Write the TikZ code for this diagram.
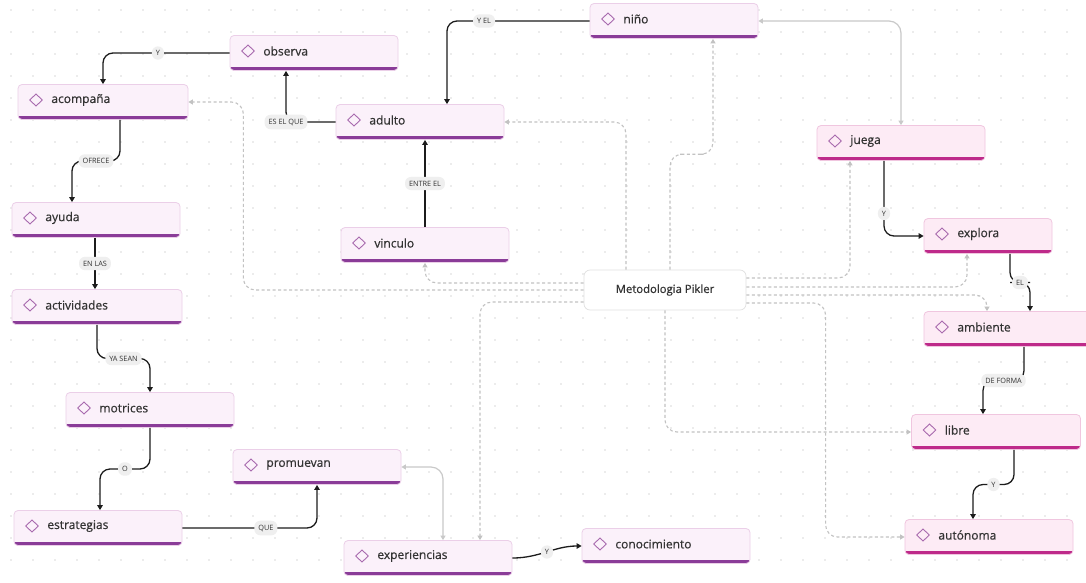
\documentclass[tikz,border=0pt]{standalone}
\usepackage{fontspec}
\setmainfont{Open Sans}
\newfontfamily\nfont{Open Sans}[FakeBold=0.6]
\usetikzlibrary{arrows.meta,calc}
\definecolor{pfill}{HTML}{FBF1FA}
\definecolor{pborder}{HTML}{EBCFE8}
\definecolor{pbar}{HTML}{8A3C98}
\definecolor{kfill}{HTML}{FDEBF5}
\definecolor{kborder}{HTML}{F0C6DF}
\definecolor{kbar}{HTML}{BE2A8A}
\definecolor{dia}{HTML}{A86AAE}
\definecolor{ntext}{HTML}{333333}
\definecolor{lblbg}{HTML}{EFEFEF}
\definecolor{dashc}{HTML}{C2C2C2}
\definecolor{grayc}{HTML}{C9C9C9}
\definecolor{dotc}{HTML}{DADADA}
\definecolor{linec}{HTML}{1C1C1C}
\tikzset{
  box/.style={rectangle, rounded corners=4pt, line width=0.8pt, minimum height=35pt, minimum width=168pt, inner sep=0pt},
  ntxt/.style={anchor=west, inner sep=0pt, minimum width=0pt, minimum height=0pt, draw=none, fill=none, font=\nfont\fontsize{12}{14}\selectfont, text=ntext},
  diam/.style={draw=dia, fill=none, line width=0.9pt, sharp corners},
  pbox/.style={box, draw=pborder, fill=pfill, path picture={
     \fill[pbar, sharp corners] ([yshift=3.5pt]path picture bounding box.south west) rectangle (path picture bounding box.south east);
     \draw[diam] ([xshift=18pt,yshift=2pt]path picture bounding box.west) +(0,-6pt) -- +(6.3pt,0) -- +(0,6pt) -- +(-6.3pt,0) -- cycle;
     \node[ntxt] at ([xshift=33pt,yshift=2pt]path picture bounding box.west) {#1};}},
  kbox/.style={box, draw=kborder, fill=kfill, path picture={
     \fill[kbar, sharp corners] ([yshift=3.5pt]path picture bounding box.south west) rectangle (path picture bounding box.south east);
     \draw[diam] ([xshift=18pt,yshift=2pt]path picture bounding box.west) +(0,-6pt) -- +(6.3pt,0) -- +(0,6pt) -- +(-6.3pt,0) -- cycle;
     \node[ntxt] at ([xshift=33pt,yshift=2pt]path picture bounding box.west) {#1};}},
  pik/.style={rectangle, rounded corners=6pt, draw=black!12, fill=white, line width=0.7pt, minimum width=162pt, minimum height=40pt, font=\nfont\fontsize{11.3}{13}\selectfont, text=ntext},
  lbl/.style={fill=lblbg, rounded corners=6pt, inner xsep=4pt, inner ysep=4pt, font=\fontsize{7.3}{8}\selectfont, text=black!80},
  conn/.style={draw=linec, line width=1.3pt, rounded corners=10pt, -{Triangle[length=5pt,width=5.5pt]}},
  gconn/.style={draw=grayc, line width=1.2pt, rounded corners=12pt, {Triangle[length=4.5pt,width=5pt]}-{Triangle[length=4.5pt,width=5pt]}},
  dconn/.style={draw=dashc, line width=1.1pt, dash pattern=on 3pt off 2.5pt, rounded corners=12pt, -{Triangle[length=4.5pt,width=5pt]}}
}
\begin{document}
\begin{tikzpicture}[x=1pt,y=-1pt]
\useasboundingbox (0,0) rectangle (1086,582);
\fill[white] (0,0) rectangle (1086,582);
\foreach \x in {11,33,...,1085} \foreach \y in {10,32,...,580} \fill[dotc] (\x,\y) circle (0.8pt);

% nodes
\node[pbox=observa] (observa) at (314,53) {};
\node[pbox=acompaña, minimum width=170pt] (acompana) at (103,102) {};
\node[pbox=niño] (nino) at (674,21) {};
\node[pbox=adulto] (adulto) at (420,122) {};
\node[kbox=juega] (juega) at (901,143) {};
\node[kbox=explora, minimum width=128pt] (explora) at (988,236) {};
\node[pbox=ayuda] (ayuda) at (96,220) {};
\node[pbox=vinculo] (vinculo) at (425,245) {};
\node[pik] (pikler) at (665,290) {Metodologia Pikler};
\node[pbox=actividades, minimum width=170pt] (actividades) at (97,307) {};
\node[kbox=ambiente, minimum width=166pt] (ambiente) at (1007,329) {};
\node[pbox=motrices] (motrices) at (150,410) {};
\node[kbox=libre, minimum width=169pt] (libre) at (996,432) {};
\node[pbox=promuevan] (promuevan) at (317,467) {};
\node[pbox=estrategias] (estrategias) at (98,528) {};
\node[pbox=experiencias] (experiencias) at (428,558) {};
\node[pbox=conocimiento] (conocimiento) at (666,546) {};
\node[kbox=autónoma] (autonoma) at (989,537) {};

% dashed connectors from Pikler
\draw[dconn] (pikler.west) -| ([xshift=55pt]acompana.east) -- (acompana.east);
\draw[dconn] ([xshift=-39pt]pikler.north) |- (adulto.east);
\draw[dconn] ([xshift=5pt]pikler.north) |- ($([xshift=5pt]pikler.north)!.5!([xshift=39pt]nino.south)$) -| ([xshift=39pt]nino.south);
\draw[dconn] ([yshift=7pt]pikler.west) -| (vinculo.south);
\draw[dconn] ([yshift=-12pt]pikler.west) -| ([xshift=52pt]experiencias.north);
\draw[dconn] ([yshift=12pt]pikler.east) -| ([xshift=-51pt]juega.south);
\draw[dconn] ([yshift=3pt]pikler.east) -| ([xshift=-21pt]explora.south);
\draw[dconn] ([yshift=-5pt]pikler.east) -| ([xshift=-20pt]ambiente.north);
\draw[dconn] (pikler.south) |- (libre.west);
\draw[dconn] ([yshift=-13pt]pikler.east) -| ([xshift=-79pt]autonoma.west) -- (autonoma.west);

% gray double connectors
\draw[gconn] (nino.east) -| (juega.north);
\draw[gconn] (promuevan.east) -| ([xshift=15pt]experiencias.north);

% black connectors
\draw[conn] (observa.west) -| node[lbl, pos=0.283] {Y} (acompana.north);
\draw[conn] (adulto.west) -| node[lbl, pos=0.5] {ES EL QUE} ([xshift=-28pt]observa.south);
\draw[conn] (nino.west) -| node[lbl, pos=0.37] {Y EL} ([xshift=27pt]adulto.north);
\draw[conn] (vinculo.north) -- node[lbl] {ENTRE EL} (vinculo.north |- adulto.south);
\draw[conn] ([xshift=17pt]acompana.south) |- ($([xshift=17pt]acompana.south)!.5!([xshift=-24pt]ayuda.north)$) node[lbl] {OFRECE} -| ([xshift=-24pt]ayuda.north);
\draw[conn] ([xshift=-1pt]ayuda.south) -- node[lbl] {EN LAS} ([xshift=-2pt]actividades.north);
\draw[conn] (actividades.south) |- ($(actividades.south)!.5!(motrices.north)$) node[lbl] {YA SEAN} -| (motrices.north);
\draw[conn] (motrices.south) |- ($(motrices.south)!.5!([xshift=2pt]estrategias.north)$) node[lbl] {O} -| ([xshift=2pt]estrategias.north);
\draw[conn] (estrategias.east) -| node[lbl, pos=0.31] {QUE} (promuevan.south);
\draw[conn] (experiencias.east) to[out=0, in=180] node[lbl] {Y} (conocimiento.west);
\draw[conn] ([xshift=-17pt]juega.south) |- node[lbl, pos=0.35] {Y} (explora.west);
\draw[conn] ([xshift=22pt]explora.south) |- ($([xshift=22pt]explora.south)!.5!([xshift=23pt]ambiente.north)$) node[lbl] {EL} -| ([xshift=23pt]ambiente.north);
\draw[conn] ([xshift=17pt]ambiente.south) |- ($([xshift=17pt]ambiente.south)!.5!([xshift=-13pt]libre.north)$) node[lbl] {DE FORMA} -| ([xshift=-13pt]libre.north);
\draw[conn] ([xshift=18pt]libre.south) |- ($([xshift=18pt]libre.south)!.5!([xshift=-16pt]autonoma.north)$) node[lbl] {Y} -| ([xshift=-16pt]autonoma.north);
\end{tikzpicture}
\end{document}
